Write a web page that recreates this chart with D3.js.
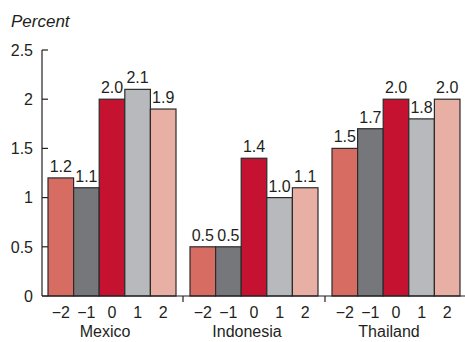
<!DOCTYPE html>
<html>
<head>
<meta charset="utf-8">
<script src="https://cdn.jsdelivr.net/npm/d3@7"></script>
<style>
  body { margin: 0; background: #fff; }
  text { font-family: "Liberation Sans", Arial, sans-serif; fill: #231f20; font-size: 16px; }
</style>
</head>
<body>
<div id="chart"></div>
<script>
// data
var countries = ["Mexico", "Indonesia", "Thailand"];
var horizons = ["\u22122", "\u22121", "0", "1", "2"];
var mexico = [1.2, 1.1, 2.0, 2.1, 1.9];
var indonesia = [0.5, 0.5, 1.4, 1.0, 1.1];
var thailand = [1.5, 1.7, 2.0, 1.8, 2.0];
var yTicks = [0, 0.5, 1, 1.5, 2, 2.5];
var yTickLabels = ["0", "0.5", "1", "1.5", "2", "2.5"];
var barColors = ["#d76d62", "#76777b", "#c41230", "#b8b9bd", "#e8b0a4"];

var values = [mexico, indonesia, thailand];

var width = 465, height = 342;
var axisX = 42, baseY = 296;

var svg = d3.select("#chart")
    .append("svg")
    .attr("width", width)
    .attr("height", height);

var y = d3.scaleLinear()
    .domain([0, 2.5])
    .range([baseY, 50]);

var x0 = d3.scaleBand()
    .domain(countries)
    .range([41, 467]);

var x1 = d3.scaleBand()
    .domain(d3.range(horizons.length))
    .range([7, x0.bandwidth() - 7]);

// y axis
svg.append("line")
    .attr("x1", axisX).attr("x2", axisX)
    .attr("y1", y(2.5)).attr("y2", baseY)
    .attr("stroke", "#231f20").attr("stroke-width", 1.2);

svg.selectAll(".ytick")
    .data(yTicks)
    .enter()
    .append("line")
    .attr("x1", axisX).attr("x2", axisX + 6)
    .attr("y1", function(d) { return y(d); })
    .attr("y2", function(d) { return y(d); })
    .attr("stroke", "#231f20").attr("stroke-width", 1.2);

svg.selectAll(".ylab")
    .data(yTicks)
    .enter()
    .append("text")
    .attr("x", 33)
    .attr("y", function(d) { return y(d); })
    .attr("dy", "0.36em")
    .attr("text-anchor", "end")
    .text(function(d, i) { return yTickLabels[i]; });

svg.append("text")
    .attr("x", 11)
    .attr("y", 27)
    .style("font-style", "italic")
    .style("font-size", "17px")
    .text("Percent");

// bars
var groups = svg.selectAll(".group")
    .data(countries)
    .enter()
    .append("g")
    .attr("transform", function(d) { return "translate(" + x0(d) + ",0)"; });

groups.selectAll("rect")
    .data(function(d, i) { return values[i]; })
    .enter()
    .append("rect")
    .attr("x", function(d, i) { return x1(i); })
    .attr("y", function(d) { return y(d); })
    .attr("width", x1.bandwidth())
    .attr("height", function(d) { return baseY - y(d); })
    .attr("fill", function(d, i) { return barColors[i]; })
    .attr("stroke", "#2b2b2b")
    .attr("stroke-width", 1.2);

groups.selectAll(".val")
    .data(function(d, i) { return values[i]; })
    .enter()
    .append("text")
    .attr("x", function(d, i) { return x1(i) + x1.bandwidth() / 2; })
    .attr("y", function(d) { return y(d) - 6; })
    .attr("text-anchor", "middle")
    .text(function(d) { return d.toFixed(1); });

groups.selectAll(".hlab")
    .data(horizons)
    .enter()
    .append("text")
    .attr("x", function(d, i) { return x1(i) + x1.bandwidth() / 2; })
    .attr("y", 318)
    .attr("text-anchor", "middle")
    .text(function(d) { return d; });

groups.append("text")
    .attr("x", x0.bandwidth() / 2 - 7)
    .attr("y", 337)
    .attr("text-anchor", "middle")
    .text(function(d) { return d; });

// x axis
svg.append("line")
    .attr("x1", axisX).attr("x2", width)
    .attr("y1", baseY).attr("y2", baseY)
    .attr("stroke", "#231f20").attr("stroke-width", 1.2);

svg.selectAll(".xtick")
    .data(countries.slice(1))
    .enter()
    .append("line")
    .attr("x1", function(d) { return x0(d); })
    .attr("x2", function(d) { return x0(d); })
    .attr("y1", baseY).attr("y2", baseY + 6)
    .attr("stroke", "#231f20").attr("stroke-width", 1.2);
</script>
</body>
</html>
